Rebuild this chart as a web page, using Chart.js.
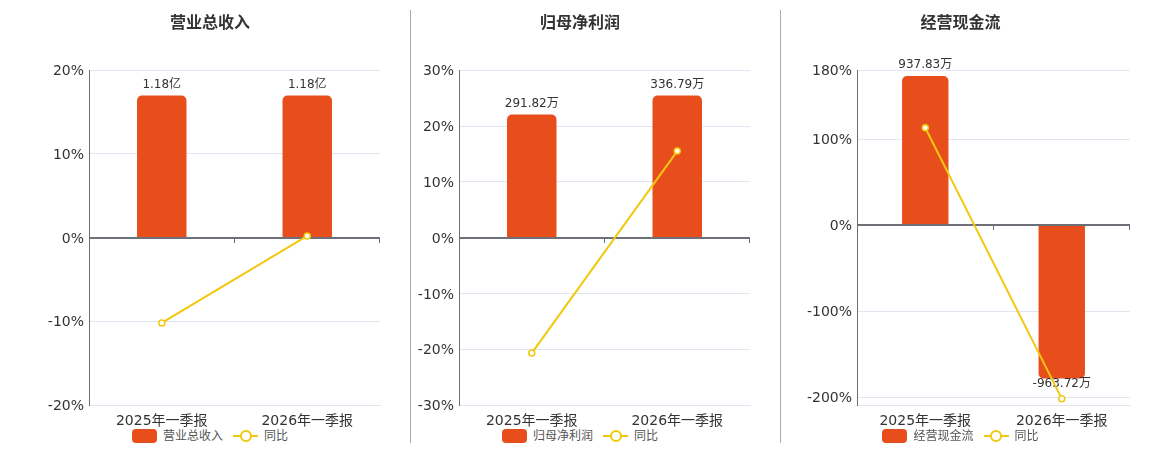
<!DOCTYPE html>
<html>
<head>
<meta charset="utf-8">
<title>季报对比</title>
<script src="https://cdn.jsdelivr.net/npm/chart.js@4.4.0/dist/chart.umd.min.js"></script>
<style>
  html, body { margin: 0; padding: 0; background: #fff; overflow: hidden; }
  #wrap { position: relative; width: 1160px; height: 450px; }
  .panel { position: absolute; top: 0; }
  .sep { position: absolute; top: 10px; height: 433px; width: 1px; background: #aaa; }
  .legend { position: absolute; top: 429px; height: 14px; display: flex; justify-content: center; align-items: center;
            font: 12px "DejaVu Sans", "Noto Sans CJK SC", sans-serif; color: #555; white-space: nowrap; }
  .legend .txt { margin-left: 6px; line-height: 14px; }
  .legend .item { display: flex; align-items: center; }
  .legend .item + .item { margin-left: 10px; }
  .icon-bar { width: 25px; height: 14px; border-radius: 4px; background: #E84D1C; }
  .icon-line { position: relative; width: 25px; height: 14px; }
  .icon-line:before { content: ''; position: absolute; left: 0; top: 6px; width: 25px; height: 2px; background: #F2C80F; }
  .icon-line:after { content: ''; position: absolute; left: 6.5px; top: 1px; width: 8px; height: 8px; border: 2px solid #F2C80F;
                     border-radius: 50%; background: #fff; }
</style>
</head>
<body>
<div id="wrap">
  <div class="panel" id="p1" style="left:40px"><canvas id="c1" width="370" height="429"></canvas></div>
  <div class="panel" id="p2" style="left:410px"><canvas id="c2" width="370" height="429"></canvas></div>
  <div class="panel" id="p3" style="left:780px"><canvas id="c3" width="380" height="429"></canvas></div>
  <div class="sep" style="left:410px"></div>
  <div class="sep" style="left:780px"></div>
</div>
<script>
'use strict';

// dane
var categories = ['2025年一季报', '2026年一季报'];
var yoyLabel = '同比';

var revenueTitle = '营业总收入';
var revenueValues = [1.18, 1.18];        // 亿
var revenueYoy = [-10.2, 0.2];           // %
var revenueTicks = [-20, -10, 0, 10, 20];

var profitTitle = '归母净利润';
var profitValues = [291.82, 336.79];     // 万
var profitYoy = [-20.7, 15.5];
var profitTicks = [-30, -20, -10, 0, 10, 20, 30];

var cashTitle = '经营现金流';
var cashValues = [937.83, -963.72];      // 万
var cashYoy = [113.1, -201.6];
var cashTicks = [-200, -100, 0, 100, 180];

// style
var FONT = '"DejaVu Sans", "Noto Sans CJK SC", sans-serif';
var BAR_COLOR = '#E84D1C';
var LINE_COLOR = '#F2C80F';
var GRID_COLOR = '#E0E6F1';
var AXIS_COLOR = '#6E7079';

Chart.defaults.font.family = FONT;

// linia zera, kreski osi X i etykiety nad słupkami
var barDecor = {
  id: 'barDecor',
  afterDatasetDraw: function(chart, args, opts) {
    if (args.meta.type !== 'bar') return;
    var ctx = chart.ctx;
    var xs = chart.scales.x;
    var y0 = Math.round(chart.scales.y.getPixelForValue(0));
    var area = chart.chartArea;
    var n = chart.data.labels.length;
    ctx.save();
    ctx.strokeStyle = AXIS_COLOR;
    ctx.lineWidth = 2;
    ctx.beginPath(); ctx.moveTo(area.left, y0); ctx.lineTo(area.right, y0); ctx.stroke();
    ctx.lineWidth = 1;
    for (var i = 0; i < n; i++) {
      var xb = i < n - 1 ? (xs.getPixelForValue(i) + xs.getPixelForValue(i + 1)) / 2 : area.right;
      xb = Math.round(xb) - 0.5;
      ctx.beginPath(); ctx.moveTo(xb, y0); ctx.lineTo(xb, y0 + 5); ctx.stroke();
    }
    ctx.font = '12px ' + FONT;
    ctx.fillStyle = '#333';
    ctx.textAlign = 'center';
    var data = chart.data.datasets[args.index].data;
    args.meta.data.forEach(function(el, i) {
      var v = data[i];
      var txt = v.toFixed(2) + opts.unit;
      if (v >= 0) {
        ctx.textBaseline = 'bottom';
        ctx.fillText(txt, el.x, el.y - 5);
      } else {
        ctx.textBaseline = 'top';
        ctx.fillText(txt, el.x, el.y - 1);
      }
    });
    ctx.restore();
  }
};

// legenda w HTML pod wykresem
function makeLegend(panelId, title, padLeft, width) {
  var box = document.createElement('div');
  box.className = 'legend';
  box.style.left = padLeft + 'px';
  box.style.width = (width - 30 - padLeft) + 'px';
  box.innerHTML =
    '<span class="item"><span class="icon-bar"></span><span class="txt"></span></span>' +
    '<span class="item"><span class="icon-line"></span><span class="txt"></span></span>';
  var txts = box.querySelectorAll('.txt');
  txts[0].textContent = title;
  txts[1].textContent = yoyLabel;
  document.getElementById(panelId).appendChild(box);
}

function makeChart(id, title, unit, barValues, yoyValues, ticks, pctMin, pctMax, barTop, padLeft, axisWidth) {
  // oś słupków ma zero w tym samym miejscu co oś procentowa
  var barBottom = barTop * pctMin / pctMax;
  var canvas = document.getElementById('c' + id);
  makeLegend('p' + id, title, padLeft, canvas.width);
  return new Chart(canvas, {
    data: {
      labels: categories,
      datasets: [{
        type: 'line',
        label: yoyLabel,
        data: yoyValues,
        yAxisID: 'y',
        order: 0,
        borderColor: LINE_COLOR,
        borderWidth: 2,
        pointRadius: 3,
        pointBackgroundColor: '#fff',
        pointBorderColor: LINE_COLOR,
        pointBorderWidth: 1.5,
        tension: 0
      }, {
        type: 'bar',
        label: title,
        data: barValues,
        yAxisID: 'yBar',
        order: 1,
        backgroundColor: BAR_COLOR,
        borderRadius: 5,
        categoryPercentage: 1,
        barPercentage: 0.34
      }]
    },
    options: {
      responsive: false,
      animation: false,
      layout: { padding: { left: padLeft, right: 30, top: 0, bottom: 0 } },
      scales: {
        x: {
          grid: { display: false, drawTicks: false },
          border: { color: GRID_COLOR, width: 1 },
          ticks: { color: '#333', font: { size: 14 }, padding: 8 },
          afterFit: function(s) { s.height = 24; }
        },
        y: {
          position: 'left',
          min: pctMin,
          max: pctMax,
          afterBuildTicks: function(s) {
            s.ticks = ticks.map(function(v) { return { value: v }; });
          },
          grid: { color: GRID_COLOR, drawTicks: false },
          border: { color: AXIS_COLOR, width: 1 },
          ticks: {
            color: '#333',
            font: { size: 14 },
            padding: 5,
            labelOffset: 1.5,
            callback: function(v) { return v + '%'; }
          },
          afterFit: function(s) { s.width = axisWidth; }
        },
        yBar: {
          display: false,
          min: barBottom,
          max: barTop
        }
      },
      plugins: {
        title: {
          display: true,
          text: title,
          color: '#333',
          font: { size: 16, weight: 'bold' },
          padding: { top: 14, bottom: 37 }
        },
        legend: { display: false },
        tooltip: { enabled: false },
        barDecor: { unit: unit }
      }
    },
    plugins: [barDecor]
  });
}

makeChart(1, revenueTitle, '亿', revenueValues, revenueYoy, revenueTicks, -20, 20, 1.39, 0, 49);
makeChart(2, profitTitle, '万', profitValues, profitYoy, profitTicks, -30, 30, 397, 0, 49);
makeChart(3, cashTitle, '万', cashValues, cashYoy, cashTicks, -209, 180, 974, 11, 66);
</script>
</body>
</html>
